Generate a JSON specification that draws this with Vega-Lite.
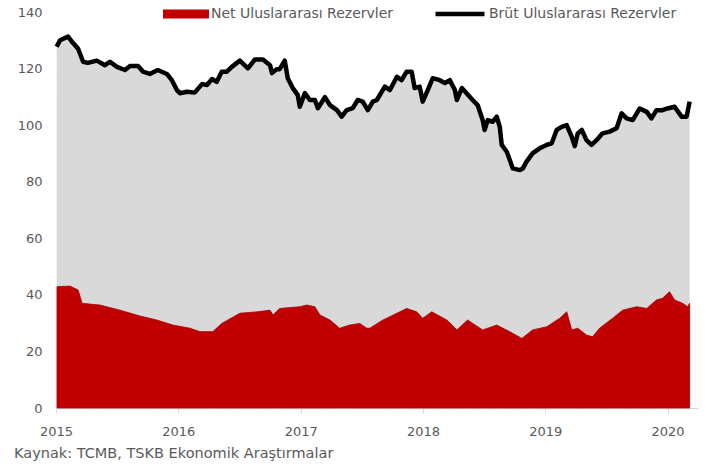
{
  "$schema": "https://vega.github.io/schema/vega-lite/v6.json",
  "autosize": {"type": "none"},
  "width": 642,
  "height": 396,
  "padding": {"left": 56, "top": 12, "right": 16, "bottom": 58},
  "background": "white",
  "config": {
    "view": {"stroke": null},
    "font": "DejaVu Sans",
    "axis": {"labelFont": "DejaVu Sans", "labelColor": "#595959", "labelFontSize": 13, "grid": false}
  },
  "title": {
    "text": "Kaynak: TCMB, TSKB Ekonomik Araştırmalar",
    "orient": "bottom",
    "anchor": "start",
    "frame": "group",
    "dx": -42,
    "offset": 9,
    "fontSize": 14.5,
    "fontWeight": "normal",
    "color": "#595959",
    "font": "DejaVu Sans"
  },
  "datasets": {
    "gross": [
      {"date": "2015-01-03", "v": 127.7},
      {"date": "2015-01-13", "v": 130.0},
      {"date": "2015-02-06", "v": 131.3},
      {"date": "2015-02-21", "v": 129.0},
      {"date": "2015-03-08", "v": 127.0},
      {"date": "2015-03-23", "v": 122.4},
      {"date": "2015-04-06", "v": 122.0},
      {"date": "2015-05-03", "v": 122.8},
      {"date": "2015-05-27", "v": 121.2},
      {"date": "2015-06-11", "v": 122.4},
      {"date": "2015-07-02", "v": 120.6},
      {"date": "2015-07-26", "v": 119.5},
      {"date": "2015-08-10", "v": 120.9},
      {"date": "2015-09-03", "v": 120.9},
      {"date": "2015-09-18", "v": 118.9},
      {"date": "2015-10-08", "v": 118.1},
      {"date": "2015-11-01", "v": 119.5},
      {"date": "2015-11-28", "v": 118.1},
      {"date": "2015-12-13", "v": 115.9},
      {"date": "2015-12-28", "v": 112.4},
      {"date": "2016-01-06", "v": 111.3},
      {"date": "2016-01-27", "v": 111.8},
      {"date": "2016-02-19", "v": 111.5},
      {"date": "2016-03-12", "v": 114.5},
      {"date": "2016-03-27", "v": 114.2},
      {"date": "2016-04-11", "v": 116.3},
      {"date": "2016-04-25", "v": 115.3},
      {"date": "2016-05-10", "v": 118.9},
      {"date": "2016-05-25", "v": 118.9},
      {"date": "2016-06-09", "v": 120.6},
      {"date": "2016-07-03", "v": 122.8},
      {"date": "2016-07-27", "v": 120.1},
      {"date": "2016-08-17", "v": 123.2},
      {"date": "2016-09-10", "v": 123.2},
      {"date": "2016-10-01", "v": 121.2},
      {"date": "2016-10-07", "v": 118.4},
      {"date": "2016-10-21", "v": 119.8},
      {"date": "2016-10-30", "v": 119.8},
      {"date": "2016-11-14", "v": 122.8},
      {"date": "2016-11-23", "v": 116.6},
      {"date": "2016-12-08", "v": 113.1},
      {"date": "2016-12-23", "v": 110.6},
      {"date": "2016-12-29", "v": 106.5},
      {"date": "2017-01-13", "v": 111.3},
      {"date": "2017-01-28", "v": 108.9},
      {"date": "2017-02-12", "v": 108.9},
      {"date": "2017-02-21", "v": 106.0},
      {"date": "2017-03-14", "v": 109.9},
      {"date": "2017-03-29", "v": 107.1},
      {"date": "2017-04-19", "v": 105.3},
      {"date": "2017-05-03", "v": 103.0},
      {"date": "2017-05-18", "v": 105.3},
      {"date": "2017-06-05", "v": 106.0},
      {"date": "2017-06-20", "v": 108.9},
      {"date": "2017-07-05", "v": 108.3},
      {"date": "2017-07-20", "v": 105.3},
      {"date": "2017-08-04", "v": 108.3},
      {"date": "2017-08-16", "v": 108.9},
      {"date": "2017-09-09", "v": 113.6},
      {"date": "2017-09-24", "v": 112.4},
      {"date": "2017-10-15", "v": 117.1},
      {"date": "2017-10-29", "v": 115.9},
      {"date": "2017-11-13", "v": 118.9},
      {"date": "2017-11-28", "v": 118.9},
      {"date": "2017-12-07", "v": 113.1},
      {"date": "2017-12-22", "v": 113.6},
      {"date": "2017-12-31", "v": 108.3},
      {"date": "2018-01-15", "v": 112.4},
      {"date": "2018-01-30", "v": 116.6},
      {"date": "2018-02-20", "v": 115.9},
      {"date": "2018-03-07", "v": 114.9},
      {"date": "2018-03-22", "v": 115.9},
      {"date": "2018-04-06", "v": 112.4},
      {"date": "2018-04-12", "v": 108.9},
      {"date": "2018-04-27", "v": 113.1},
      {"date": "2018-05-11", "v": 111.3},
      {"date": "2018-05-29", "v": 108.9},
      {"date": "2018-06-13", "v": 107.1},
      {"date": "2018-06-28", "v": 101.8},
      {"date": "2018-07-04", "v": 98.3},
      {"date": "2018-07-13", "v": 101.8},
      {"date": "2018-07-28", "v": 101.2},
      {"date": "2018-08-09", "v": 103.0},
      {"date": "2018-08-18", "v": 99.4},
      {"date": "2018-08-24", "v": 93.0},
      {"date": "2018-09-08", "v": 90.6},
      {"date": "2018-09-17", "v": 87.7},
      {"date": "2018-09-26", "v": 84.7},
      {"date": "2018-10-17", "v": 84.1},
      {"date": "2018-10-26", "v": 84.7},
      {"date": "2018-11-06", "v": 87.1},
      {"date": "2018-11-24", "v": 90.0},
      {"date": "2018-12-15", "v": 91.8},
      {"date": "2019-01-05", "v": 93.0},
      {"date": "2019-01-20", "v": 93.6},
      {"date": "2019-02-04", "v": 98.3},
      {"date": "2019-02-19", "v": 99.4},
      {"date": "2019-03-06", "v": 100.0},
      {"date": "2019-03-21", "v": 95.9},
      {"date": "2019-03-30", "v": 92.6},
      {"date": "2019-04-08", "v": 97.1},
      {"date": "2019-04-20", "v": 98.3},
      {"date": "2019-05-04", "v": 94.7},
      {"date": "2019-05-19", "v": 93.0},
      {"date": "2019-06-03", "v": 94.7},
      {"date": "2019-06-21", "v": 97.1},
      {"date": "2019-07-12", "v": 97.7},
      {"date": "2019-08-02", "v": 98.9},
      {"date": "2019-08-17", "v": 104.2},
      {"date": "2019-09-01", "v": 102.4},
      {"date": "2019-09-19", "v": 101.8},
      {"date": "2019-10-10", "v": 105.9},
      {"date": "2019-10-31", "v": 104.7},
      {"date": "2019-11-14", "v": 102.4},
      {"date": "2019-11-29", "v": 105.3},
      {"date": "2019-12-17", "v": 105.3},
      {"date": "2020-01-01", "v": 105.9},
      {"date": "2020-01-22", "v": 106.5},
      {"date": "2020-02-12", "v": 103.0},
      {"date": "2020-02-27", "v": 103.0},
      {"date": "2020-03-07", "v": 108.3}
    ],
    "net": [
      {"date": "2015-01-04", "v": 42.9},
      {"date": "2015-02-12", "v": 43.1},
      {"date": "2015-03-08", "v": 41.7},
      {"date": "2015-03-20", "v": 37.0},
      {"date": "2015-05-12", "v": 36.4},
      {"date": "2015-07-11", "v": 34.6},
      {"date": "2015-09-09", "v": 32.5},
      {"date": "2015-10-29", "v": 31.1},
      {"date": "2015-12-16", "v": 29.3},
      {"date": "2016-02-05", "v": 28.2},
      {"date": "2016-03-06", "v": 27.0},
      {"date": "2016-04-13", "v": 27.0},
      {"date": "2016-05-10", "v": 29.9},
      {"date": "2016-07-03", "v": 33.5},
      {"date": "2016-08-23", "v": 34.0},
      {"date": "2016-10-01", "v": 34.6},
      {"date": "2016-10-10", "v": 32.9},
      {"date": "2016-10-30", "v": 35.2},
      {"date": "2016-12-29", "v": 35.8},
      {"date": "2017-01-19", "v": 36.4},
      {"date": "2017-02-12", "v": 35.8},
      {"date": "2017-02-27", "v": 32.9},
      {"date": "2017-03-29", "v": 31.1},
      {"date": "2017-04-27", "v": 28.2},
      {"date": "2017-05-27", "v": 29.3},
      {"date": "2017-06-26", "v": 29.9},
      {"date": "2017-07-17", "v": 28.2},
      {"date": "2017-07-26", "v": 28.2},
      {"date": "2017-09-03", "v": 31.1},
      {"date": "2017-10-15", "v": 33.5},
      {"date": "2017-11-13", "v": 35.2},
      {"date": "2017-12-13", "v": 34.0},
      {"date": "2017-12-31", "v": 31.7},
      {"date": "2018-01-27", "v": 34.0},
      {"date": "2018-03-13", "v": 31.1},
      {"date": "2018-04-12", "v": 27.6},
      {"date": "2018-05-14", "v": 31.1},
      {"date": "2018-06-28", "v": 27.6},
      {"date": "2018-08-09", "v": 29.3},
      {"date": "2018-09-17", "v": 27.0},
      {"date": "2018-10-23", "v": 24.6},
      {"date": "2018-11-24", "v": 27.6},
      {"date": "2019-01-05", "v": 28.7},
      {"date": "2019-02-13", "v": 31.7},
      {"date": "2019-03-06", "v": 34.0},
      {"date": "2019-03-21", "v": 27.6},
      {"date": "2019-04-08", "v": 28.2},
      {"date": "2019-05-04", "v": 25.8},
      {"date": "2019-05-22", "v": 25.2},
      {"date": "2019-06-12", "v": 28.2},
      {"date": "2019-07-21", "v": 31.7},
      {"date": "2019-08-20", "v": 34.6},
      {"date": "2019-10-01", "v": 35.8},
      {"date": "2019-10-31", "v": 35.2},
      {"date": "2019-11-29", "v": 38.2},
      {"date": "2019-12-17", "v": 38.8},
      {"date": "2020-01-07", "v": 41.1},
      {"date": "2020-01-22", "v": 38.2},
      {"date": "2020-02-15", "v": 37.0},
      {"date": "2020-03-01", "v": 35.8},
      {"date": "2020-03-07", "v": 37.0}
    ]
  },
  "encoding": {
    "x": {
      "field": "date",
      "type": "temporal",
      "scale": {"domain": ["2015-01-01", "2020-04-01"]},
      "axis": {
        "title": null,
        "format": "%Y",
        "tickCount": {"interval": "year", "step": 1},
        "domainColor": "#d9d9d9",
        "tickColor": "#d9d9d9",
        "tickSize": 5,
        "labelPadding": 12,
        "labelFlush": false
      }
    },
    "y": {
      "field": "v",
      "type": "quantitative",
      "scale": {"domain": [0, 140]},
      "axis": {
        "title": null,
        "values": [0, 20, 40, 60, 80, 100, 120, 140],
        "domain": false,
        "ticks": false,
        "labelPadding": 14
      }
    }
  },
  "layer": [
    {
      "data": {"name": "gross"},
      "mark": {"type": "area", "color": "#d9d9d9"}
    },
    {
      "data": {"name": "net"},
      "mark": {"type": "area", "stroke": "#a50000", "strokeWidth": 0.8},
      "encoding": {
        "fill": {
          "datum": "Net Uluslararası Rezervler",
          "type": "nominal",
          "scale": {"range": ["#c00000"]},
          "legend": {
            "orient": "none",
            "legendX": 107,
            "legendY": -21,
            "title": null,
            "padding": 0,
            "symbolType": "M-1,-0.2H1V0.2H-1Z",
            "symbolSize": 2116,
            "symbolStrokeWidth": 0,
            "labelFont": "DejaVu Sans",
            "labelFontSize": 14,
            "labelColor": "#595959",
            "labelOffset": 2,
            "labelLimit": 400
          }
        }
      }
    },
    {
      "data": {"name": "gross"},
      "mark": {"type": "line", "strokeWidth": 4.5, "strokeJoin": "round"},
      "encoding": {
        "stroke": {
          "datum": "Brüt Uluslararası Rezervler",
          "type": "nominal",
          "scale": {"range": ["#000000"]},
          "legend": {
            "orient": "none",
            "legendX": 377,
            "legendY": -25,
            "title": null,
            "padding": 0,
            "symbolType": "stroke",
            "symbolSize": 2401,
            "symbolStrokeWidth": 4.5,
            "labelFont": "DejaVu Sans",
            "labelFontSize": 14,
            "labelColor": "#595959",
            "labelOffset": 2,
            "labelLimit": 400
          }
        }
      }
    }
  ]
}
